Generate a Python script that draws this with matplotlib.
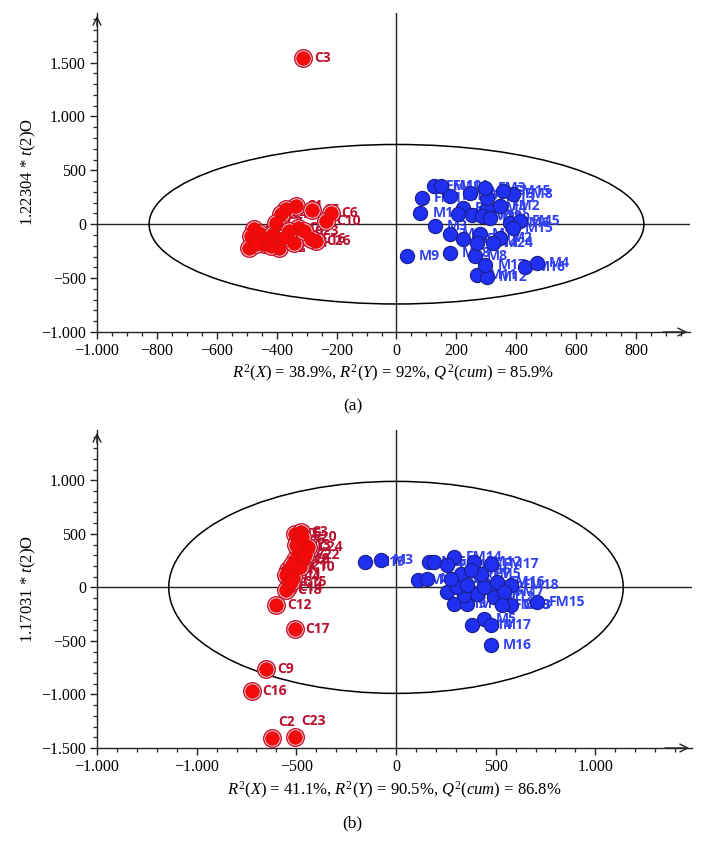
import numpy as np
import matplotlib
matplotlib.use("Agg")
import matplotlib.pyplot as plt
from matplotlib.patches import Ellipse
from matplotlib.ticker import MultipleLocator, FixedLocator, FuncFormatter, FixedFormatter

plt.rcParams['font.family'] = ['Liberation Serif', 'DejaVu Serif']
plt.rcParams['mathtext.fontset'] = 'custom'
plt.rcParams['mathtext.rm'] = 'Liberation Serif'
plt.rcParams['mathtext.it'] = 'Liberation Serif:italic'

# ---------------- Panel (a) data ----------------
a_red_x = [-311, -337, -281, -220, -237, -370, -387, -403, -477, -487, -460, -493, -443,
           -393, -343, -270, -287, -330, -413, -360, -450, -420, -310, -380, -470]
a_red_y = [1545, 168, 128, 106, 28, 140, 93, 9, -47, -112, -84, -224, -187,
           -224, -177, -159, -140, -37, -93, -60, -150, -200, -60, -130, -180]
a_red_lab = ["C3", "C1", "C5", "C6", "C10", "C8", "C4", "C7", "C11", "C12", "C13", "C14", "C15",
             "C2", "C21", "C26", "C16", "C17", "C18", "C19", "C20", "C22", "C23", "C24", "C25"]

a_blue_x = [125, 147, 86, 80, 130, 36, 180, 180, 223, 263, 269, 302, 297, 430, 469, 280, 347,
            323, 269, 380, 413, 390, 223, 207, 252, 302, 347, 302, 247, 297, 390, 357, 180, 286, 313]
a_blue_y = [355, 355, 246, 106, -19, -299, -268, -93, -140, -299, -470, -486, -377, -393, -361,
            -93, -128, -174, -174, 12, 28, -34, 153, 93, 90, 153, 168, 246, 293, 339, 277, 308,
            262, 75, 59]
a_blue_lab = ["FM10", "FM11", "FM1", "M1", "M3", "M9", "M18", "M6", "M5", "M8", "M11", "M12",
              "M17", "M16", "M4", "M10", "M2", "M24", "M14", "FM6", "FM5", "M15", "FM12", "FM7",
              "FM9", "FM4", "FM2", "FM13", "FM14", "FM3", "FM8", "FM15", "FM16", "M19", "M20"]

a_xlabel = r'$R^2(X)$ = 38.9%, $R^2(Y)$ = 92%, $Q^2(cum)$ = 85.9%'
a_ylabel = r'1.22304 * $t$(2)O'
a_xticks = [-1000, -800, -600, -400, -200, 0, 200, 400, 600, 800]
a_xticklabels = ["\u22121.000", "\u2212800", "\u2212600", "\u2212400", "\u2212200", "0",
                 "200", "400", "600", "800"]
a_yticks = [-1000, -500, 0, 500, 1000, 1500]
a_yticklabels = ["\u22121.000", "\u2212500", "0", "500", "1.000", "1.500"]

# ---------------- Panel (b) data ----------------
b_red_x = [-508, -475, -492, -442, -492, -467, -508, -483, -542, -550, -517, -542, -550,
           -600, -508, -650, -722, -622, -508, -500, -525, -470, -520, -455]
b_red_y = [502, 517, 439, 377, 315, 268, 252, 190, 159, 112, 96, 3, -28,
           -168, -386, -760, -969, -1405, -1393, 400, 50, 470, 210, 300]
b_red_lab = ["C5", "C3", "C6", "C24", "C7", "C8", "C19", "C10", "C1", "C11", "C4", "C14", "C18",
             "C12", "C17", "C9", "C16", "C2", "C23", "C13", "C15", "C20", "C21", "C22"]

b_blue_x = [-158, -75, 108, 158, 167, 192, 292, 258, 392, 475, 325, 258, 292, 358, 408, 492,
            575, 575, 708, 442, 383, 475, 475, 508, 442, 342, 308, 425, 375, 542, 275, 358, 533]
b_blue_y = [236, 252, 65, 81, 236, 236, 283, 206, 236, 221, 128, -44, -152, -152, -59, -90,
            19, -168, -137, -293, -355, -355, -542, 50, 3, -75, 3, 128, 159, -44, 81, 19, -168]
b_blue_lab = ["M19", "M3", "M4", "M7", "M2", "M6", "FM14", "FM1", "FM12", "FM17", "FM11", "M8",
              "M9", "M10", "M11", "M12", "FM18", "M13", "FM15", "M5", "M14", "M17", "M16", "FM16",
              "FM2", "FM3", "FM4", "FM5", "FM6", "FM7", "FM8", "FM9", "FM10"]

b_xlabel = r'$R^2(X)$ = 41.1%, $R^2(Y)$ = 90.5%, $Q^2(cum)$ = 86.8%'
b_ylabel = r'1.17031 * $t$(2)O'
b_xticks = [-1500, -1000, -500, 0, 500, 1000]
b_xticklabels = ["\u22121.000", "\u22121.000", "\u2212500", "0", "500", "1.000"]
b_yticks = [-1500, -1000, -500, 0, 500, 1000]
b_yticklabels = ["\u22121.500", "\u22121.000", "\u2212500", "0", "500", "1.000"]

RED = "#f50a0a"
RED_EDGE = "#c8102e"
RED_TXT = "#b8102c"
BLUE = "#1f30f0"
BLUE_EDGE = "#1a1f8a"
BLUE_TXT = "#3040f0"

fig = plt.figure(figsize=(7.05, 8.56), dpi=100)
W, H = 705.0, 856.0


def make_panel(rect, xlim, ylim, ell_w, ell_h, xticks, xtl, xminor, yticks, ytl, yminor,
               rx, ry, rlab, bx, by, blab, xlabel, ylabel, special_up=()):
    ax = fig.add_axes(rect)
    ax.set_xlim(*xlim)
    ax.set_ylim(*ylim)
    for s in ['top', 'right']:
        ax.spines[s].set_visible(False)
    for s in ['left', 'bottom']:
        ax.spines[s].set_linewidth(1.0)
        ax.spines[s].set_color('#222222')
    ax.axhline(0, color='#222222', lw=1.0, zorder=1)
    ax.axvline(0, color='#222222', lw=1.0, zorder=1)
    ax.add_patch(Ellipse((0, 0), 2 * ell_w, 2 * ell_h, fill=False, ec='black', lw=1.1, zorder=1))

    ax.xaxis.set_major_locator(FixedLocator(xticks))
    ax.xaxis.set_major_formatter(FixedFormatter(xtl))
    ax.xaxis.set_minor_locator(MultipleLocator(xminor))
    ax.yaxis.set_major_locator(FixedLocator(yticks))
    ax.yaxis.set_major_formatter(FixedFormatter(ytl))
    ax.yaxis.set_minor_locator(MultipleLocator(yminor))
    ax.tick_params(which='major', length=5, width=1.0, color='#222222', labelsize=11.5, pad=3)
    ax.tick_params(which='minor', length=3, width=0.9, color='#222222')

    # arrows at axis ends
    ax.annotate('', xy=(1.0, 0), xytext=(0.95, 0), xycoords='axes fraction',
                arrowprops=dict(arrowstyle='->', lw=1.0, color='#222222', mutation_scale=14),
                annotation_clip=False)
    ax.annotate('', xy=(0, 1.0), xytext=(0, 0.95), xycoords='axes fraction',
                arrowprops=dict(arrowstyle='->', lw=1.0, color='#222222', mutation_scale=14),
                annotation_clip=False)

    # blue points
    ax.scatter(bx, by, s=105, c=BLUE, edgecolors=BLUE_EDGE, linewidths=0.8, zorder=4)
    for x, y, t in zip(bx, by, blab):
        ax.annotate(t, (x, y), xytext=(8.5, 0), textcoords='offset points', va='center',
                    ha='left', color=BLUE_TXT, fontsize=10, fontweight='bold',
                    family=['Open Sans', 'DejaVu Sans'], zorder=3)
    # red points: outer ring + inner fill
    ax.scatter(rx, ry, s=160, c='#fbe3e6', edgecolors=RED_EDGE, linewidths=1.0, zorder=5)
    ax.scatter(rx, ry, s=95, c=RED, edgecolors='#d01010', linewidths=0.6, zorder=6)
    for x, y, t in zip(rx, ry, rlab):
        if t in special_up:
            off = (4.5, 11.5)
        else:
            off = (7.5, 0)
        ax.annotate(t, (x, y), xytext=off, textcoords='offset points', va='center',
                    ha='left', color=RED_TXT, fontsize=10, fontweight='bold',
                    family=['Open Sans', 'DejaVu Sans'], zorder=3)

    ax.set_xlabel(xlabel, fontsize=12)
    ax.set_ylabel(ylabel, fontsize=12)
    return ax


# panel (a)
axa_rect = [97 / W, 1 - 332 / H, (690 - 97) / W, (332 - 13) / H]
axa = make_panel(axa_rect, (-1000, 980), (-1000, 1960), 826, 740,
                 a_xticks, a_xticklabels, 50, a_yticks, a_yticklabels, 100,
                 a_red_x, a_red_y, a_red_lab, a_blue_x, a_blue_y, a_blue_lab,
                 a_xlabel, a_ylabel)
axa.xaxis.set_label_coords(0.5, -(373 - 332) / 319)
axa.xaxis.label.set_va('center')
axa.yaxis.set_label_coords((38 - 97) / 593, 0.5)

# panel (b)
axb_rect = [97 / W, 1 - 748 / H, (692 - 97) / W, (748 - 430) / H]
axb = make_panel(axb_rect, (-1500, 1485), (-1500, 1470), 1140, 990,
                 b_xticks, b_xticklabels, 100, b_yticks, b_yticklabels, 100,
                 b_red_x, b_red_y, b_red_lab, b_blue_x, b_blue_y, b_blue_lab,
                 b_xlabel, b_ylabel, special_up=("C2", "C23"))
axb.xaxis.set_label_coords(0.5, -(790 - 748) / 318)
axb.xaxis.label.set_va('center')
axb.yaxis.set_label_coords((38 - 97) / 595, 0.5)

fig.text(0.5, 1 - 406 / H, '(a)', ha='center', va='center', fontsize=12.5)
fig.text(0.5, 1 - 823 / H, '(b)', ha='center', va='center', fontsize=12.5)

fig.savefig('out.png', dpi=100)
